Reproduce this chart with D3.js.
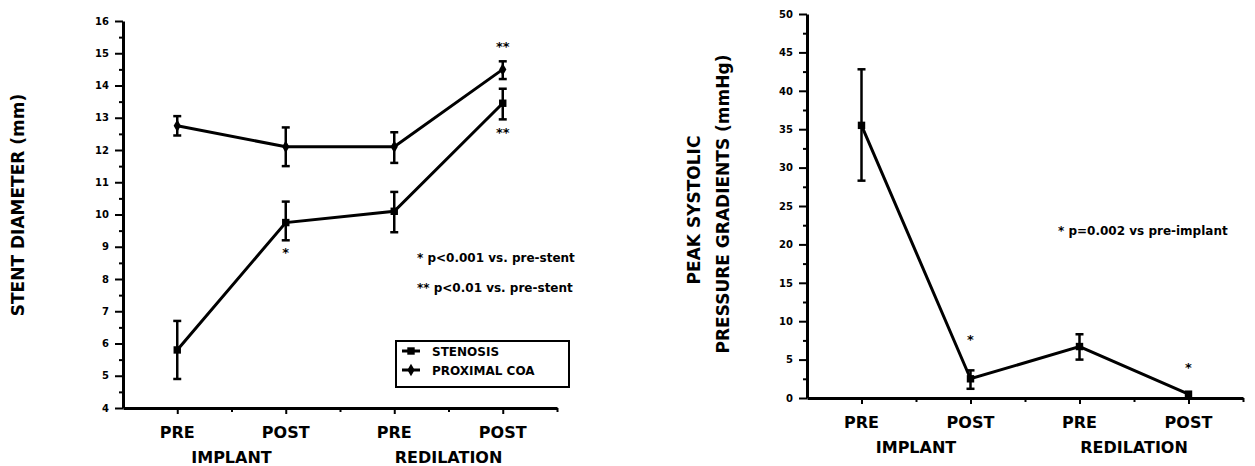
<html>
<head>
<script src="https://d3js.org/d3.v7.min.js"></script>
<style>
  body { margin: 0; background: #fff; }
  svg text { font-family: "DejaVu Sans", sans-serif; font-weight: bold; fill: #000; }
</style>
</head>
<body>
<svg id="chart" width="1255" height="466"></svg>
<script>
const phases = ["PRE", "POST", "PRE", "POST"];
const groups = ["IMPLANT", "REDILATION"];

// left panel: stent diameter (mm)
const stenosisMean = [5.8, 9.75, 10.1, 13.45];
const stenosisLo = [4.9, 9.2, 9.45, 12.95];
const stenosisHi = [6.7, 10.4, 10.7, 13.9];
const coaMean = [12.75, 12.1, 12.1, 14.5];
const coaLo = [12.45, 11.5, 11.6, 14.2];
const coaHi = [13.05, 12.7, 12.55, 14.75];

// right panel: peak systolic gradient (mmHg)
const gradMean = [35.5, 2.5, 6.7, 0.5];
const gradLo = [28.3, 1.2, 5.0, 0.5];
const gradHi = [42.8, 3.6, 8.3, 0.5];

const svg = d3.select("#chart");

function panel(opt) {
  const g = svg.append("g");
  const x = d3.scaleLinear().domain([0, 4]).range([opt.x0, opt.x1]);
  const y = d3.scaleLinear().domain(opt.yDomain).range([opt.y1, opt.y0]);

  // y axis
  const ya = g.append("g").attr("transform", `translate(${opt.x0},0)`)
    .call(d3.axisLeft(y).tickValues(d3.range(opt.yDomain[0], opt.yDomain[1] + 0.01, opt.yStep))
      .tickSize(8).tickSizeOuter(0).tickFormat(d3.format("d")));
  ya.selectAll("text").style("font-size", "10px").attr("x", -14);
  g.append("g").attr("transform", `translate(${opt.x0},0)`)
    .call(d3.axisLeft(y).tickValues(d3.range(opt.yDomain[0] + opt.yStep / 2, opt.yDomain[1], opt.yStep))
      .tickSize(4).tickSizeOuter(0).tickFormat(""))
    .select(".domain").remove();

  // x axis
  g.append("g").attr("transform", `translate(0,${opt.y1})`)
    .call(d3.axisBottom(x).tickValues([0.5, 1.5, 2.5, 3.5]).tickSize(6).tickSizeOuter(0).tickFormat(""));
  g.append("g").attr("transform", `translate(0,${opt.y1})`)
    .call(d3.axisBottom(x).tickValues([1, 2, 3, 4]).tickSize(4).tickSizeOuter(0).tickFormat(""))
    .select(".domain").remove();
  g.selectAll("g").attr("font-family", null);
  g.selectAll(".domain").attr("stroke-width", 3);
  g.selectAll(".tick line").attr("stroke-width", 2);

  g.selectAll(".phase").data(phases).join("text")
    .attr("x", (d, i) => x(i + 0.5)).attr("y", opt.y1 + 30)
    .attr("text-anchor", "middle").style("font-size", "16px").text(d => d);
  g.selectAll(".group").data(groups).join("text")
    .attr("x", (d, i) => x(i * 2 + 1)).attr("y", opt.y1 + 55)
    .attr("text-anchor", "middle").style("font-size", "16px").text(d => d);

  opt.series.forEach(s => {
    const pts = s.mean.map((m, i) => ({ i, m, lo: s.lo[i], hi: s.hi[i] }));
    g.append("path").datum(pts)
      .attr("d", d3.line().x(d => x(d.i + 0.5)).y(d => y(d.m)))
      .attr("fill", "none").attr("stroke", "#000").attr("stroke-width", 3);
    const eb = g.selectAll(null).data(pts.filter(d => d.hi > d.lo)).join("g");
    eb.append("line").attr("x1", d => x(d.i + 0.5)).attr("x2", d => x(d.i + 0.5))
      .attr("y1", d => y(d.lo)).attr("y2", d => y(d.hi)).attr("stroke", "#000").attr("stroke-width", 2.5);
    [d => d.lo, d => d.hi].forEach(f => {
      eb.append("line").attr("x1", d => x(d.i + 0.5) - 4).attr("x2", d => x(d.i + 0.5) + 4)
        .attr("y1", d => y(f(d))).attr("y2", d => y(f(d))).attr("stroke", "#000").attr("stroke-width", 2.5);
    });
    g.selectAll(null).data(pts).join("path")
      .attr("transform", d => `translate(${x(d.i + 0.5)},${y(d.m)})`)
      .attr("d", d3.symbol().type(s.symbol).size(s.size))
      .attr("fill", "#000");
  });

  opt.stars.forEach(st => {
    g.append("text").attr("x", x(st.i + 0.5)).attr("y", y(st.v))
      .attr("text-anchor", "middle").attr("dy", "0.7em").style("font-size", "13px").text(st.t);
  });
  return { g, x, y };
}

const L = panel({
  x0: 123, x1: 557, y0: 21, y1: 408, yDomain: [4, 16], yStep: 1,
  series: [
    { mean: stenosisMean, lo: stenosisLo, hi: stenosisHi, symbol: d3.symbolSquare, size: 55 },
    { mean: coaMean, lo: coaLo, hi: coaHi, symbol: d3.symbolDiamond, size: 45 }
  ],
  stars: [{ i: 1, v: 8.95, t: "*" }, { i: 3, v: 15.35, t: "**" }, { i: 3, v: 12.7, t: "**" }]
});

L.g.append("text").attr("transform", "translate(24,205) rotate(-90)")
  .attr("text-anchor", "middle").style("font-size", "17px").text("STENT DIAMETER (mm)");
L.g.append("text").attr("x", 417).attr("y", 262).style("font-size", "12px").text("* p<0.001 vs. pre-stent");
L.g.append("text").attr("x", 417).attr("y", 292).style("font-size", "12px").text("** p<0.01 vs. pre-stent");

// legend
const leg = L.g.append("g");
leg.append("rect").attr("x", 396).attr("y", 341).attr("width", 173).attr("height", 46)
  .attr("fill", "#fff").attr("stroke", "#000").attr("stroke-width", 2);
const legItems = [["STENOSIS", d3.symbolSquare, 55], ["PROXIMAL COA", d3.symbolDiamond, 45]];
legItems.forEach((it, k) => {
  const yy = 351 + k * 19;
  leg.append("line").attr("x1", 402).attr("x2", 420).attr("y1", yy).attr("y2", yy)
    .attr("stroke", "#000").attr("stroke-width", 3);
  leg.append("path").attr("transform", `translate(411,${yy})`)
    .attr("d", d3.symbol().type(it[1]).size(it[2])).attr("fill", "#000");
  leg.append("text").attr("x", 432).attr("y", yy + 5).style("font-size", "12px").text(it[0]);
});

const R = panel({
  x0: 807, x1: 1243, y0: 14, y1: 398, yDomain: [0, 50], yStep: 5,
  series: [{ mean: gradMean, lo: gradLo, hi: gradHi, symbol: d3.symbolSquare, size: 55 }],
  stars: [{ i: 1, v: 8.2, t: "*" }, { i: 3, v: 4.6, t: "*" }]
});
R.g.append("text").attr("transform", "translate(700,210) rotate(-90)")
  .attr("text-anchor", "middle").style("font-size", "17px").text("PEAK SYSTOLIC");
R.g.append("text").attr("transform", "translate(729,204) rotate(-90)")
  .attr("text-anchor", "middle").style("font-size", "17px").text("PRESSURE GRADIENTS (mmHg)");
R.g.append("text").attr("x", 1058).attr("y", 235).style("font-size", "12px").text("* p=0.002 vs pre-implant");
</script>
</body>
</html>
